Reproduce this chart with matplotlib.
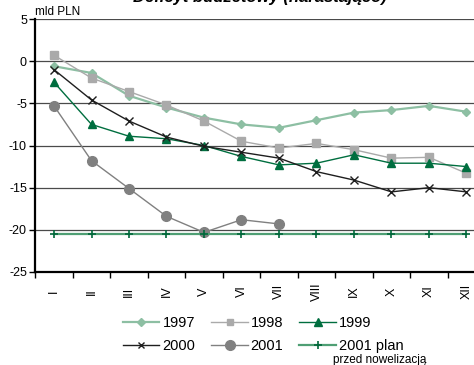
import matplotlib
matplotlib.use("Agg")
import matplotlib.pyplot as plt
from matplotlib.lines import Line2D

plt.rcParams["font.family"] = ["Liberation Sans", "DejaVu Sans"]

months = ["I", "II", "III", "IV", "V", "VI", "VII", "VIII", "IX", "X", "XI", "XII"]

y1997 = [-0.6, -1.4, -4.1, -5.5, -6.7, -7.5, -7.9, -7.0, -6.1, -5.8, -5.3, -6.0]
y1998 = [0.7, -2.0, -3.6, -5.2, -7.1, -9.5, -10.3, -9.75, -10.5, -11.5, -11.4, -13.3]
y1999 = [-2.5, -7.5, -8.9, -9.2, -10.0, -11.3, -12.3, -12.1, -11.1, -12.1, -12.1, -12.5]
y2000 = [-1.0, -4.6, -7.1, -9.0, -10.1, -10.8, -11.5, -13.1, -14.1, -15.5, -15.0, -15.5]
y2001 = [-5.3, -11.8, -15.1, -18.4, -20.3, -18.8, -19.3]
y2001_plan = [-20.5] * 12

yticks = [5, 0, -5, -10, -15, -20, -25]

c97 = "#8dbfa3"
c98 = "#aaaaaa"
c99 = "#006e3f"
c00 = "#1e1e1e"
c01 = "#808080"
cplan_line = "#4f9f74"
cplan_mark = "#00673a"

fig = plt.figure(figsize=(4.74, 3.65), dpi=100)
W, H = 474, 365
ax = fig.add_axes([35.25 / W, 1 - 272 / H, 450 / W, 253 / H])

x = list(range(len(months)))

ax.plot(x, y1997, color=c97, lw=1.6, marker="D", ms=4.5, mec=c97, mfc=c97)
ax.plot(x, y1998, color=c98, lw=1.0, marker="s", ms=5.5, mec=c98, mfc=c98)
ax.plot(x, y1999, color=c99, lw=1.0, marker="^", ms=6, mec=c99, mfc=c99)
ax.plot(x, y2000, color=c00, lw=1.0, marker="x", ms=6, mew=1.0)
ax.plot(x[:len(y2001)], y2001, color=c01, lw=1.0, marker="o", ms=7, mec=c01, mfc=c01)
ax.plot(x, y2001_plan, color=cplan_line, lw=1.6)
ax.plot(x, y2001_plan, ls="none", marker="+", ms=6, mew=1.2, color=cplan_mark)

ax.set_xlim(-0.5, 11.5)
ax.set_ylim(-25, 5)
ax.set_yticks(yticks)
ax.set_yticklabels([str(v) for v in yticks], fontsize=9)
for v in yticks[:-1]:
    ax.axhline(v, color="#4a4a4a", lw=0.9, zorder=0)

ax.set_xticks([i - 0.5 for i in x])
ax.set_xticklabels([])
ax.set_xticks(x, minor=True)
ax.set_xticklabels(months, minor=True, rotation=90, fontsize=9, va="center")
ax.tick_params(axis="x", which="minor", length=0, pad=14)
ax.tick_params(axis="x", which="major", length=4, width=1.0, direction="out")
ax.tick_params(axis="y", length=4, width=1.0, direction="out", pad=2)

for s in ["top", "right"]:
    ax.spines[s].set_visible(False)
ax.spines["left"].set_linewidth(1.6)
ax.spines["bottom"].set_linewidth(1.6)

fig.text(35 / W, 1 - 12 / H, "mld PLN", fontsize=8.5, va="center", ha="left")
# title is clipped at the top edge in the reference
fig.text(260 / W, 1 - 2 / H, "Deficyt budżetowy (narastająco)", fontsize=12,
         fontweight="bold", style="italic", ha="center", va="baseline")

handles = [
    Line2D([], [], color=c97, lw=1.6, marker="D", ms=4, mfc=c97, mec=c97),
    Line2D([], [], color=c98, lw=1.0, marker="s", ms=5, mfc=c98, mec=c98),
    Line2D([], [], color=c99, lw=1.0, marker="^", ms=6, mfc=c99, mec=c99),
    Line2D([], [], color=c00, lw=1.0, marker="x", ms=5),
    Line2D([], [], color=c01, lw=1.0, marker="o", ms=7, mfc=c01, mec=c01),
    Line2D([], [], color=cplan_line, lw=1.6, marker="+", ms=6, mew=1.2, mec=cplan_mark),
]
labels = ["1997", "1998", "1999", "2000", "2001", "2001 plan"]
order = [0, 3, 1, 4, 2, 5]
fig.legend([handles[i] for i in order], [labels[i] for i in order], ncol=3,
           loc="upper left", bbox_to_anchor=(123 / W, 1 - 316 / H), frameon=False,
           fontsize=10.5, handlelength=2.5, handletextpad=0.2, columnspacing=1.1,
           labelspacing=0.65, borderpad=0, borderaxespad=0)
fig.text(333 / W, 1 - 360 / H, "przed nowelizacją", fontsize=8.5, va="center", ha="left")

fig.savefig("out.png", dpi=100)
